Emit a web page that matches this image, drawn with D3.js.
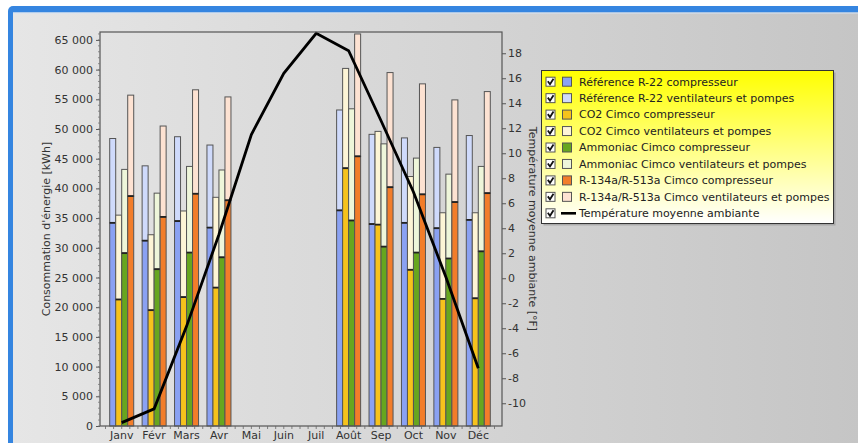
<!DOCTYPE html>
<html><head><meta charset="utf-8">
<script src="https://cdn.jsdelivr.net/npm/d3@7"></script>
<style>html,body{margin:0;padding:0;background:#fff;overflow:hidden}svg{display:block}text{font-family:"DejaVu Sans",Verdana,sans-serif}</style>
</head><body>
<script>
const months = ["Janv","Févr","Mars","Avr","Mai","Juin","Juil","Août","Sep","Oct","Nov","Déc"];
const systems = ["ref","co2","amm","r134"];
// compressor / fans-and-pumps (kWh) per month; null = no data
const refComp  = [34200,31200,34500,33400,null,null,null,36300,34000,34200,33300,34700];
const refVent  = [14200,12600,14200,13900,null,null,null,16900,15100,14300,13600,14200];
const co2Comp  = [21300,19500,21700,23300,null,null,null,43400,33900,26300,21400,21500];
const co2Vent  = [14200,12700,14500,15200,null,null,null,16800,15700,15700,14500,14400];
const ammComp  = [29100,26400,29200,28400,null,null,null,34600,30200,29200,28200,29400];
const ammVent  = [14100,12800,14500,14700,null,null,null,18800,17300,15900,14200,14300];
const r134Comp = [38700,35200,39100,38000,null,null,null,45400,40200,39000,37700,39200];
const r134Vent = [17000,15300,17500,17400,null,null,null,20600,19300,18600,17200,17100];
const temperature = [-11.55,-10.45,-3.85,3.5,11.5,16.4,19.6,18.2,12.6,6.9,0.1,-7.2];
const leftTicks = [0,5000,10000,15000,20000,25000,30000,35000,40000,45000,50000,55000,60000,65000];
const rightTicks = [-10,-8,-6,-4,-2,0,2,4,6,8,10,12,14,16,18];
const legendLabels = ["Référence R-22 compresseur","Référence R-22 ventilateurs et pompes","CO2 Cimco compresseur","CO2 Cimco ventilateurs et pompes","Ammoniac Cimco compresseur","Ammoniac Cimco ventilateurs et pompes","R-134a/R-513a Cimco compresseur","R-134a/R-513a Cimco ventilateurs et pompes","Température moyenne ambiante"];
const leftTitle = "Consommation d'énergie [kWh]";
const rightTitle = "Température moyenne ambiante [°F]";

const compColors = {ref:"#8aa1f2", co2:"#f6c21c", amm:"#67a61f", r134:"#f27d2a"};
const ventColors = {ref:"#cfdafb", co2:"#fdf5d6", amm:"#eef6da", r134:"#fde2d2"};
const legendColors = ["#8aa1f2","#cfdafb","#f6c21c","#fdf5d6","#67a61f","#eef6da","#f27d2a","#fde2d2"];
const compData = {ref:refComp, co2:co2Comp, amm:ammComp, r134:r134Comp};
const ventData = {ref:refVent, co2:co2Vent, amm:ammVent, r134:r134Vent};

const W=858,H=443;
const P={l:100,r:502,t:32,b:426};
const svg=d3.select("body").append("svg").attr("width",W).attr("height",H);
const defs=svg.append("defs");
const g1=defs.append("linearGradient").attr("id","frameG").attr("x1",0).attr("x2",1).attr("y1",0).attr("y2",0);
g1.append("stop").attr("offset","0%").attr("stop-color","#e6e6e6");
g1.append("stop").attr("offset","100%").attr("stop-color","#c3c3c3");
const g2=defs.append("linearGradient").attr("id","plotG").attr("x1",0).attr("x2",1).attr("y1",0).attr("y2",0);
g2.append("stop").attr("offset","0%").attr("stop-color","#e2e2e2");
g2.append("stop").attr("offset","100%").attr("stop-color","#d3d3d3");
const g3=defs.append("linearGradient").attr("id","legG").attr("x1",0).attr("x2",0).attr("y1",0).attr("y2",1);
g3.append("stop").attr("offset","0%").attr("stop-color","#ffff00");
g3.append("stop").attr("offset","100%").attr("stop-color","#ffffff");

// frame
svg.append("rect").attr("x",8).attr("y",6).attr("width",900).attr("height",500).attr("rx",5).attr("fill","#3585e0");
svg.append("rect").attr("x",13).attr("y",12.5).attr("width",900).attr("height",500).attr("fill","url(#frameG)");
svg.append("line").attr("x1",13).attr("x2",900).attr("y1",13).attr("y2",13).attr("stroke","#d6e4f5").attr("stroke-width",1);

// plot bg
svg.append("rect").attr("x",P.l).attr("y",P.t).attr("width",P.r-P.l).attr("height",P.b-P.t).attr("fill","url(#plotG)");

const y=d3.scaleLinear().domain([0,66330]).range([P.b,P.t]);
const yT=d3.scaleLinear().domain([-11.82,19.7]).range([P.b,P.t]);
const x=d3.scaleBand().domain(months).range([105.5,494.5]).padding(0);
const xs=d3.scaleBand().domain(systems).range([0,x.bandwidth()]).paddingInner(0).paddingOuter(0.7);

// bars
const gb=svg.append("g");
systems.forEach(s=>{
  months.forEach((m,i)=>{
    const c=compData[s][i], v=ventData[s][i];
    if(c==null) return;
    const bx=x(m)+xs(s), bw=xs.bandwidth();
    gb.append("rect").attr("x",bx).attr("y",y(c+v)).attr("width",bw).attr("height",y(c)-y(c+v))
      .attr("fill",ventColors[s]).attr("stroke","#555").attr("stroke-width",1);
    gb.append("rect").attr("x",bx).attr("y",y(c)).attr("width",bw).attr("height",y(0)-y(c))
      .attr("fill",compColors[s]).attr("stroke","#555").attr("stroke-width",1);
    gb.append("line").attr("x1",bx).attr("x2",bx+bw).attr("y1",y(c)).attr("y2",y(c)).attr("stroke","#222").attr("stroke-width",1.8);
  });
});

// temperature line
const line=d3.line().x((d,i)=>x(months[i])+x.bandwidth()/2).y(d=>yT(d));
svg.append("path").datum(temperature).attr("d",line).attr("fill","none").attr("stroke","#000").attr("stroke-width",2.8).attr("stroke-linejoin","miter");

// plot border
svg.append("rect").attr("x",P.l).attr("y",P.t).attr("width",P.r-P.l).attr("height",P.b-P.t).attr("fill","none").attr("stroke","#555").attr("stroke-width",1.2);

// left axis
const fmt=d=>d3.format(",")(d).replace(/,/g," ");
const la=svg.append("g").attr("transform",`translate(${P.l},0)`)
  .call(d3.axisLeft(y).tickValues(leftTicks).tickSize(4).tickPadding(3).tickFormat(fmt));
la.select(".domain").remove();
la.selectAll("line").attr("stroke","#555");
la.selectAll("text").attr("fill","#333").style("font-size","11px");
const minorL=d3.range(0,66001,1000);
svg.append("g").selectAll("line").data(minorL).join("line").attr("x1",P.l-2).attr("x2",P.l).attr("y1",d=>y(d)).attr("y2",d=>y(d)).attr("stroke","#777").attr("stroke-width",0.8);

// right axis
const ra=svg.append("g").attr("transform",`translate(${P.r},0)`)
  .call(d3.axisRight(yT).tickValues(rightTicks).tickSize(4).tickPadding(2).tickFormat(d=>String(d)));
ra.select(".domain").remove();
ra.selectAll("line").attr("stroke","#555");
ra.selectAll("text").attr("fill","#333").style("font-size","11px");

// bottom axis
const ba=svg.append("g").attr("transform",`translate(0,${P.b})`)
  .call(d3.axisBottom(x).tickSize(0).tickPadding(10));
ba.select(".domain").remove();
ba.selectAll("text").attr("fill","#333").style("font-size","11px").attr("dy","0.3em");
const minorB=[];
months.forEach(m=>{for(let k=0;k<4;k++) minorB.push(x(m)+k*x.bandwidth()/4);});
minorB.push(494.5);
svg.append("g").selectAll("line").data(minorB).join("line").attr("x1",d=>d).attr("x2",d=>d).attr("y1",P.b).attr("y2",P.b+3).attr("stroke","#666").attr("stroke-width",0.8);

// axis titles
svg.append("text").attr("transform",`translate(49.5,${(P.t+P.b)/2}) rotate(-90)`).attr("text-anchor","middle").attr("fill","#333").style("font-size","11px").text(leftTitle);
svg.append("text").attr("transform",`translate(529,${(P.t+P.b)/2}) rotate(90)`).attr("text-anchor","middle").attr("fill","#333").style("font-size","11px").text(rightTitle);

// legend
const L={x:541.5,y:70.5,w:292,h:153};
svg.append("rect").attr("x",L.x+2).attr("y",L.y+2).attr("width",L.w).attr("height",L.h).attr("fill","#888").attr("opacity",0.5);
svg.append("rect").attr("x",L.x).attr("y",L.y).attr("width",L.w).attr("height",L.h).attr("fill","url(#legG)").attr("stroke","#333").attr("stroke-width",1);
const lg=svg.append("g").selectAll("g").data(legendLabels).join("g").attr("transform",(d,i)=>`translate(0,${81.7+i*16.45})`);
lg.append("rect").attr("x",546).attr("y",-4.5).attr("width",9).attr("height",9).attr("fill","#fff").attr("stroke","#555");
lg.append("path").attr("d","M547.8,-0.5 L550,2.5 L553.5,-3").attr("fill","none").attr("stroke","#111").attr("stroke-width",1.8);
lg.each(function(d,i){
  const gg=d3.select(this);
  if(i<8) gg.append("rect").attr("x",562.5).attr("y",-4.5).attr("width",9).attr("height",9).attr("fill",legendColors[i]).attr("stroke","#555");
  else gg.append("line").attr("x1",561).attr("x2",576).attr("y1",0).attr("y2",0).attr("stroke","#000").attr("stroke-width",2.6);
});
lg.append("text").attr("x",579).attr("y",0).attr("dy","0.35em").attr("fill","#222").style("font-size","11px").text(d=>d);
</script>
</body></html>
